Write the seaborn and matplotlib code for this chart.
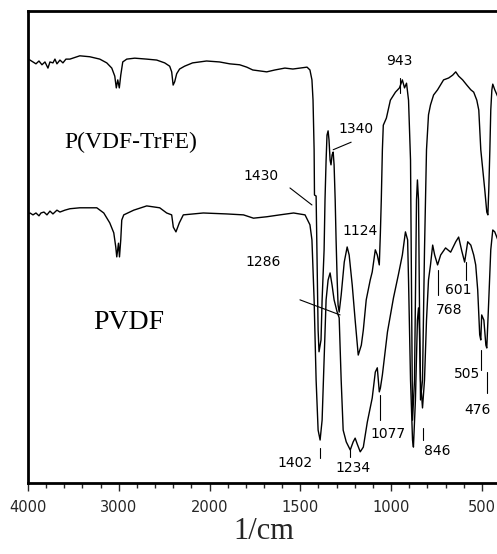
import numpy as np
import pandas as pd
import matplotlib
matplotlib.use("Agg")
import matplotlib.pyplot as plt
import seaborn as sns

# ---------------- data ----------------
# P(VDF-TrFE) spectrum: wavenumber (1/cm) and transmittance (a.u.)
trfe_wn = [3998, 3978, 3945, 3912, 3879, 3846, 3813, 3780, 3758, 3725, 3703, 3681, 3648, 3615, 3582,
           3538, 3429, 3319, 3209, 3132, 3077, 3044, 3027, 3011, 2994, 2978, 2956, 2912, 2824,
           2692, 2582, 2494, 2439, 2417, 2401, 2384, 2362, 2330, 2275, 2187, 2033, 1945, 1889,
           1834, 1795, 1762, 1723, 1685, 1640, 1585, 1541, 1502, 1463, 1447, 1436, 1430, 1424,
           1422, 1413, 1408, 1402, 1397, 1386, 1380, 1369, 1364, 1358, 1353, 1347, 1342, 1336,
           1331, 1325, 1319, 1314, 1308, 1303, 1297, 1292, 1286, 1275, 1258, 1242, 1231, 1214,
           1198, 1181, 1164, 1153, 1137, 1115, 1104, 1087, 1076, 1065, 1059, 1054, 1048, 1043,
           1026, 1004, 976, 954, 938, 926, 915, 904, 893, 887, 882, 871, 860, 855, 849, 844,
           838, 827, 816, 805, 794, 783, 766, 744, 711, 683, 661, 644, 628, 606, 583, 561,
           545, 528, 517, 506, 495, 484, 473, 467, 462, 456, 451, 445, 440, 429, 412]
trfe_t = [89.8, 89.6, 89.2, 88.8, 89.4, 88.6, 89.2, 87.9, 89.2, 89.0, 89.8, 88.8, 89.6, 89.0, 89.8,
          89.8, 90.5, 90.3, 89.8, 89.0, 87.9, 86.2, 83.7, 85.4, 83.7, 86.4, 89.2, 89.8, 90.0,
          89.8, 89.6, 89.0, 88.3, 87.1, 84.3, 85.0, 86.7, 87.7, 88.3, 89.0, 89.4, 89.2, 88.8,
          88.6, 88.1, 87.5, 87.3, 87.1, 87.5, 87.9, 87.7, 87.9, 88.1, 87.5, 85.4, 81.1, 70.6,
          61.0, 60.8, 47.2, 32.4, 27.8, 30.3, 38.8, 49.4, 60.0, 68.4, 73.7, 74.6, 72.7, 68.4,
          67.4, 69.5, 70.1, 67.4, 60.0, 51.5, 43.0, 37.7, 36.2, 39.8, 46.8, 50.0, 48.3, 41.9,
          34.5, 27.1, 29.2, 32.4, 38.8, 43.0, 44.7, 49.4, 48.3, 46.2, 53.0, 60.0, 70.6, 75.8,
          77.3, 81.1, 82.8, 83.7, 85.4, 83.7, 84.7, 81.1, 68.4, 38.8, 13.3, 21.8, 60.0, 64.2,
          60.0, 38.8, 17.6, 21.8, 49.4, 70.6, 78.0, 80.1, 82.2, 83.3, 85.4, 85.8, 86.4, 87.1,
          86.2, 85.4, 84.3, 83.3, 82.8, 81.1, 79.0, 70.6, 66.3, 62.1, 57.4, 56.8, 62.1, 70.6,
          79.0, 83.3, 84.5, 83.3, 81.8]

# PVDF spectrum
pvdf_wn = [3998, 3978, 3945, 3912, 3879, 3857, 3824, 3791, 3758, 3725, 3681, 3648, 3593, 3538, 3429,
           3242, 3165, 3099, 3055, 3033, 3022, 3003, 2992, 2978, 2967, 2945, 2835, 2692, 2549,
           2472, 2417, 2399, 2370, 2333, 2289, 2069, 1906, 1813, 1758, 1685, 1613, 1537, 1474,
           1447, 1436, 1424, 1413, 1402, 1391, 1380, 1369, 1358, 1347, 1336, 1325, 1314, 1297,
           1286, 1275, 1264, 1247, 1225, 1209, 1198, 1187, 1170, 1153, 1131, 1104, 1087, 1076,
           1065, 1059, 1048, 1020, 987, 960, 938, 921, 909, 904, 893, 882, 877, 866, 855, 849,
           844, 838, 827, 816, 805, 794, 783, 771, 760, 744, 727, 700, 672, 644, 628, 611, 595,
           578, 561, 545, 534, 523, 512, 506, 501, 489, 478, 473, 462, 451, 440, 429, 412]
pvdf_t = [57.0, 57.2, 56.8, 57.2, 56.6, 57.2, 57.4, 56.8, 57.6, 57.0, 57.8, 57.4, 57.8, 58.1, 58.3,
          58.3, 57.2, 55.1, 53.0, 50.0, 47.9, 50.8, 47.9, 51.5, 55.7, 56.8, 57.8, 58.7, 58.3,
          57.2, 56.8, 54.2, 53.2, 55.1, 56.8, 57.2, 57.0, 56.8, 56.1, 56.4, 56.8, 57.2, 56.8,
          54.7, 51.5, 38.8, 21.8, 11.2, 9.1, 13.3, 26.1, 38.8, 43.0, 44.5, 41.9, 38.8, 36.2,
          35.0, 21.8, 11.2, 8.7, 7.0, 8.7, 9.5, 8.3, 6.6, 7.6, 12.9, 18.0, 23.5, 24.4,
          19.3, 20.1, 22.9, 32.0, 39.2, 44.1, 48.3, 53.2, 51.5, 43.0, 21.8, 9.1, 7.6, 17.6, 34.5, 37.1,
          32.4, 21.8, 15.9, 21.8, 34.5, 43.0, 46.2, 50.4, 48.3, 46.2, 48.3, 49.8, 48.9, 51.1, 52.1, 49.2, 46.8,
          51.1, 50.4, 48.3, 46.2, 40.9, 31.4, 30.3, 35.6, 34.5, 29.2, 28.6, 38.8, 49.4, 53.6, 53.2, 51.5]

# peak labels
peak_labels = ["943", "1340", "1430", "1124", "1286", "1402", "1234", "1077", "846", "768", "601", "505", "476"]
label_wn = [954, 1192, 1718, 1170, 1707, 1530, 1209, 1015, 744, 683, 628, 584, 523]
label_t = [89.4, 75.0, 65.0, 53.4, 46.8, 4.2, 3.2, 10.4, 6.8, 36.7, 40.9, 23.1, 15.5]
# leader lines (start / end)
lead_wn0 = [949, 1220, 1557, None, 1502, 1391, 1225, 1059, 827, 744, 589, 506, 473]
lead_t0 = [85.8, 72.2, 62.5, None, 38.8, 7.4, 7.4, 18.6, 11.7, 45.1, 46.8, 28.2, 23.5]
lead_wn1 = [949, 1319, 1436, None, 1281, 1391, 1225, 1059, 827, 744, 589, 506, 473]
lead_t1 = [82.6, 70.6, 58.9, None, 35.6, 5.3, 5.5, 13.3, 9.1, 39.8, 43.0, 23.9, 19.1]

series_names = ["P(VDF-TrFE)", "PVDF"]
series_label_wn = [2868, 2890]
series_label_t = [72.2, 33.9]

major_ticks = [4000, 3000, 2000, 1500, 1000, 500]
minor_ticks = [3800, 3600, 3400, 3200, 2800, 2600, 2400, 2200, 1900, 1800, 1700, 1600,
               1400, 1300, 1200, 1100, 900, 800, 700, 600, 400]

# ---------------- plotting ----------------
sns.set_style("ticks")
plt.rcParams["font.family"] = ["DejaVu Sans"]

fig = plt.figure(figsize=(4.97, 5.54), dpi=100)
ax = fig.add_axes([0.0563, 0.1282, 0.9498, 0.8520])

def fwd(w):
    w = np.asarray(w, dtype=float)
    return np.where(w > 2000, 2000 + (w - 2000) / 2.0, w)

def inv(t):
    t = np.asarray(t, dtype=float)
    return np.where(t > 2000, 2000 + (t - 2000) * 2.0, t)

ax.set_xscale("function", functions=(fwd, inv))

df_trfe = pd.DataFrame({"wn": trfe_wn, "T": trfe_t})
df_pvdf = pd.DataFrame({"wn": pvdf_wn, "T": pvdf_t})
sns.lineplot(data=df_trfe, x="wn", y="T", ax=ax, color="black", lw=1.0, sort=False, estimator=None)
sns.lineplot(data=df_pvdf, x="wn", y="T", ax=ax, color="black", lw=1.0, sort=False, estimator=None)

ax.set_xlim(4000, 400)
ax.set_ylim(0, 100)

for txt, wx, ty, a0, b0, a1, b1 in zip(peak_labels, label_wn, label_t, lead_wn0, lead_t0, lead_wn1, lead_t1):
    ax.text(wx, ty, txt, ha="center", va="center", fontsize=10, color="black")
    if a0 is not None:
        ax.plot([a0, a1], [b0, b1], color="black", lw=0.8)

for name, wx, ty, fs in zip(series_names, series_label_wn, series_label_t, [17, 20]):
    ax.text(wx, ty, name, ha="center", va="center", fontsize=fs,
            family=["Liberation Serif", "DejaVu Serif"], color="black")

ax.set_xticks(major_ticks)
ax.set_xticklabels([str(v) for v in major_ticks])
ax.set_xticks(minor_ticks, minor=True)
ax.set_yticks([])
ax.tick_params(axis="x", which="major", direction="out", length=6, width=1, labelsize=10.5, pad=6)
ax.tick_params(axis="x", which="minor", direction="out", length=3.5, width=1)

for s in ["left", "top", "bottom"]:
    ax.spines[s].set_linewidth(2.0)
    ax.spines[s].set_color("black")
ax.spines["right"].set_visible(False)

ax.set_xlabel("1/cm", fontsize=22, family=["Liberation Serif", "DejaVu Serif"], labelpad=2)
ax.set_ylabel("")

fig.savefig("out.png", dpi=100)
